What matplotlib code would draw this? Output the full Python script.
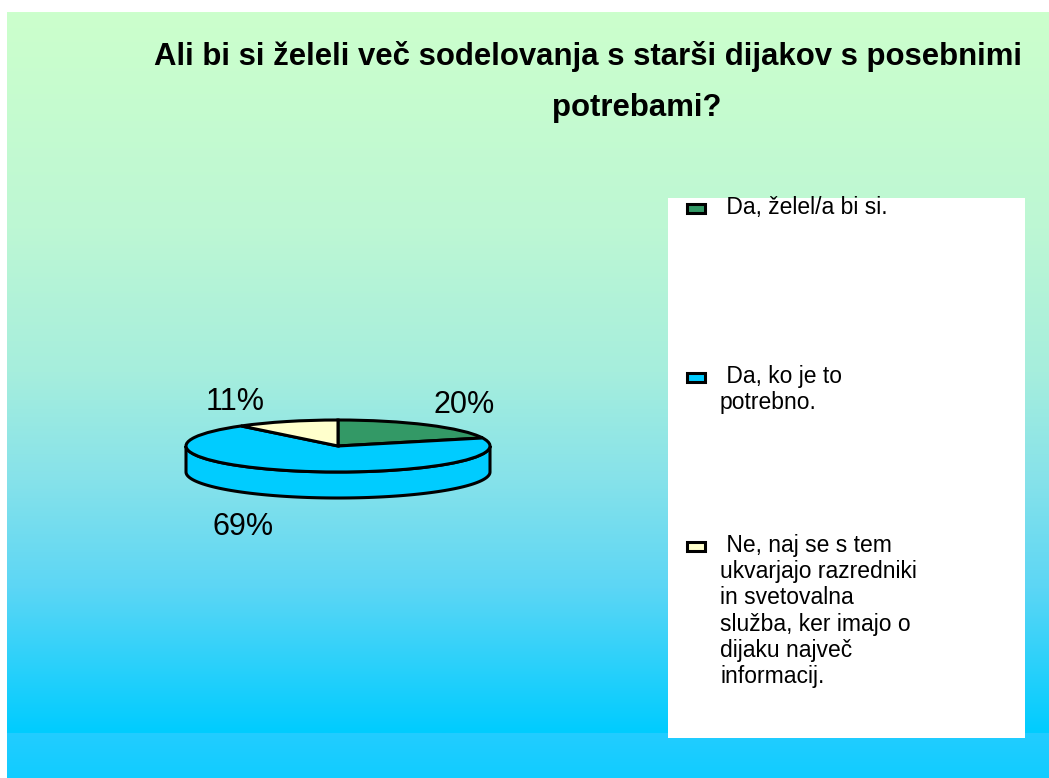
import numpy as np
import matplotlib.pyplot as plt
from matplotlib.patches import Rectangle, Polygon
from matplotlib.colors import LinearSegmentedColormap

plt.rcParams['font.family'] = ['Liberation Sans', 'DejaVu Sans']

# Podatki
naslov_1 = 'Ali bi si želeli več sodelovanja s starši dijakov s posebnimi'
naslov_2 = 'potrebami?'
odgovori = ['Da, želel/a bi si.',
            'Da, ko je to\npotrebno.',
            'Ne, naj se s tem\nukvarjajo razredniki\nin svetovalna\nslužba, ker imajo o\ndijaku največ\ninformacij.']
delezi = [20, 69, 11]
barve = ['#339966', '#00CCFF', '#FFFFCC']

W, H = 1049, 778
fig = plt.figure(figsize=(W / 100, H / 100), dpi=100)
fig.patch.set_facecolor('white')

# ozadje v pikslih
bg = fig.add_axes([0, 0, 1, 1])
bg.axis('off')

gradient = LinearSegmentedColormap.from_list('ozadje', [
    (0.0, '#CCFFCC'), (0.3, '#BDF7D4'), (0.5, '#A6EEDD'),
    (0.65, '#86E2EA'), (0.8, '#5CD6F5'), (1.0, '#00CCFF')])
bg.imshow(np.linspace(0, 1, 256)[:, None], cmap=gradient, aspect='auto',
          extent=(7, W, 733, 12), zorder=0)
pas = LinearSegmentedColormap.from_list('pas', ['#22CDFF', '#11CCFF'])
bg.imshow(np.linspace(0, 1, 64)[:, None], cmap=pas, aspect='auto',
          extent=(7, W, H, 733), zorder=0)
bg.set_xlim(0, W)
bg.set_ylim(H, 0)

# naslov
bg.text(588, 65, naslov_1, ha='center', va='baseline', fontsize=22.4,
        fontweight='bold', zorder=3)
bg.text(637, 116, naslov_2, ha='center', va='baseline', fontsize=22.4,
        fontweight='bold', zorder=3)

# legenda
bg.add_patch(Rectangle((668, 198), 357, 540, facecolor='white',
                       edgecolor='none', zorder=1))
for i, (txt, c) in enumerate(zip(odgovori, barve)):
    y = 208 + i * 169
    bg.add_patch(Rectangle((687, y - 4.5), 18, 9, facecolor=c,
                           edgecolor='black', linewidth=2.2, zorder=2))
    bg.text(720, y - 12, ' ' + txt, ha='left', va='top', fontsize=16.5,
            linespacing=1.18, zorder=3)

# 3D torta
cx, cy, rx, ry, globina = 338, 446, 152, 26, 1.0
xl, yl = (-1.3, 1.3), (-2.4, 1.4)
left = cx + xl[0] * rx
ax = fig.add_axes([left / W, (H - (cy - yl[0] * ry)) / H,
                   (xl[1] - xl[0]) * rx / W, (yl[1] - yl[0]) * ry / H])
wedges, _ = ax.pie(delezi, colors=barve, startangle=90, counterclock=False,
                   radius=1, wedgeprops=dict(edgecolor='black', linewidth=2.2))
ax.set_aspect('auto')
ax.set_xlim(*xl)
ax.set_ylim(*yl)
ax.axis('off')

# stranska ploskev
for w in wedges:
    for k in (-360, 0, 360):
        lo, hi = max(w.theta1, 180 + k), min(w.theta2, 360 + k)
        if lo < hi:
            t = np.radians(np.linspace(lo, hi, 100))
            zg = np.column_stack([np.cos(t), np.sin(t)])
            sp = np.column_stack([np.cos(t), np.sin(t) - globina])[::-1]
            ax.add_patch(Polygon(np.vstack([zg, sp]), closed=True,
                                 facecolor=w.get_facecolor(), edgecolor='black',
                                 linewidth=2.2, zorder=0))

# odstotki
for w, d in zip(wedges, delezi):
    m = np.radians((w.theta1 + w.theta2) / 2)
    px = cx + rx * np.cos(m)
    py = cy - ry * np.sin(m)
    if np.sin(m) < 0:
        py += globina * ry
    desno = np.cos(m) > 0
    bg.text(px + (6 if desno else -22), py + (-20 if np.sin(m) > 0 else 30),
            f'{d}%', ha='left' if desno else 'right', va='center',
            fontsize=22, zorder=3)

fig.savefig('out.png', dpi=100)
